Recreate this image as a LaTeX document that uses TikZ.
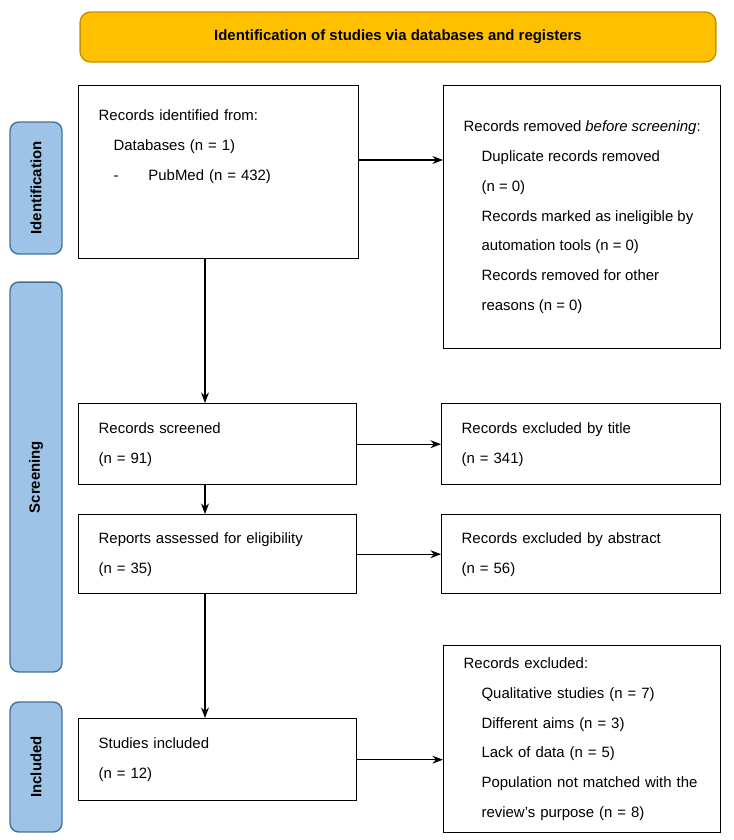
\documentclass[tikz,border=0pt]{standalone}
\usepackage{fontspec}
\setmainfont{Liberation Sans}
\usetikzlibrary{positioning, arrows.meta}
\definecolor{bannerfill}{HTML}{FFC000}
\definecolor{bannerdraw}{HTML}{C59300}
\definecolor{sidefill}{HTML}{9DC3E6}
\definecolor{sidedraw}{HTML}{41719C}
\begin{document}
\begin{tikzpicture}[x=0.02cm, y=-0.02cm, font=\fontsize{8.5}{17}\selectfont,
    box/.style={draw, line width=0.8pt, anchor=north west, inner xsep=10pt, align=justify},
    side/.style={draw=sidedraw, fill=sidefill, rounded corners=5pt, line width=0.8pt, rotate=90, font=\fontsize{8.5}{10}\selectfont\bfseries, minimum height=1.04cm},
    arr/.style={-{Stealth[length=6pt]}, line width=0.6pt}]

    \useasboundingbox (0,0) rectangle (734,840);

    % banner and phase labels
    \node[draw=bannerdraw, fill=bannerfill, rounded corners=6pt, line width=0.8pt, minimum width=12.72cm, minimum height=1cm, font=\fontsize{8.5}{10}\selectfont\bfseries] (banner) at (398,37) {Identification of studies via databases and registers};
    \node[side, minimum width=2.64cm] (ident) at (36,188) {Identification};
    \node[side, minimum width=7.8cm] (screen) at (36,477) {Screening};
    \node[side, minimum width=2.6cm] (incl) at (36,767) {Included};

    % left column
    \node[box, text width=4.8cm, minimum width=5.6cm, minimum height=3.46cm, align=left] (ident1) at (78,85) {Records identified from:\\ \quad Databases (n = 1)\\ \quad -\qquad PubMed (n = 432)\\[1.6em]\mbox{}};
    \node[box, text width=4.76cm, minimum width=5.56cm, minimum height=1.62cm, align=left] (scr1) at (78,403) {Records screened\\(n = 91)};
    \node[box, text width=4.76cm, minimum width=5.56cm, minimum height=1.58cm, align=left] (elig1) at (78,514) {Reports assessed for eligibility\\(n = 35)};
    \node[box, text width=4.76cm, minimum width=5.56cm, minimum height=1.64cm, align=left] (incl1) at (78,718) {Studies included\\(n = 12)};

    % right column
    \node[box, text width=4.74cm, minimum width=5.54cm, minimum height=5.26cm] (rem) at (443,85) {Records removed \textit{before screening}:\\
      \hspace*{1.2em}\parbox[t]{4.5cm}{\raggedright Duplicate records removed\\(n = 0)\\Records marked as ineligible by automation tools (n = 0)\\Records removed for other reasons (n = 0)}};
    \node[box, text width=4.78cm, minimum width=5.58cm, minimum height=1.62cm, align=left] (excl1) at (441,403) {Records excluded by title\\(n = 341)};
    \node[box, text width=4.78cm, minimum width=5.58cm, minimum height=1.58cm, align=left] (excl2) at (441,514) {Records excluded by abstract\\(n = 56)};
    \node[box, text width=4.74cm, minimum width=5.54cm, minimum height=3.74cm, align=left] (excl3) at (443,645) {Records excluded:\\
      \hspace*{1.2em}\parbox[t]{4.5cm}{\raggedright Qualitative studies (n = 7)\\Different aims (n = 3)\\Lack of data (n = 5)\\Population not matched with the review's purpose (n = 8)}};

    % arrows
    \draw[arr] (ident1.east |- 0,160) -- (rem.west |- 0,160);
    \draw[arr] (ident1.south -| 205,0) -- (scr1.north -| 205,0);
    \draw[arr] (scr1) -- (excl1);
    \draw[arr] (scr1.south -| 205,0) -- (elig1.north -| 205,0);
    \draw[arr] (elig1) -- (excl2);
    \draw[arr] (elig1.south -| 205,0) -- (incl1.north -| 205,0);
    \draw[arr] (incl1) -- (incl1 -| excl3.west);
\end{tikzpicture}
\end{document}
